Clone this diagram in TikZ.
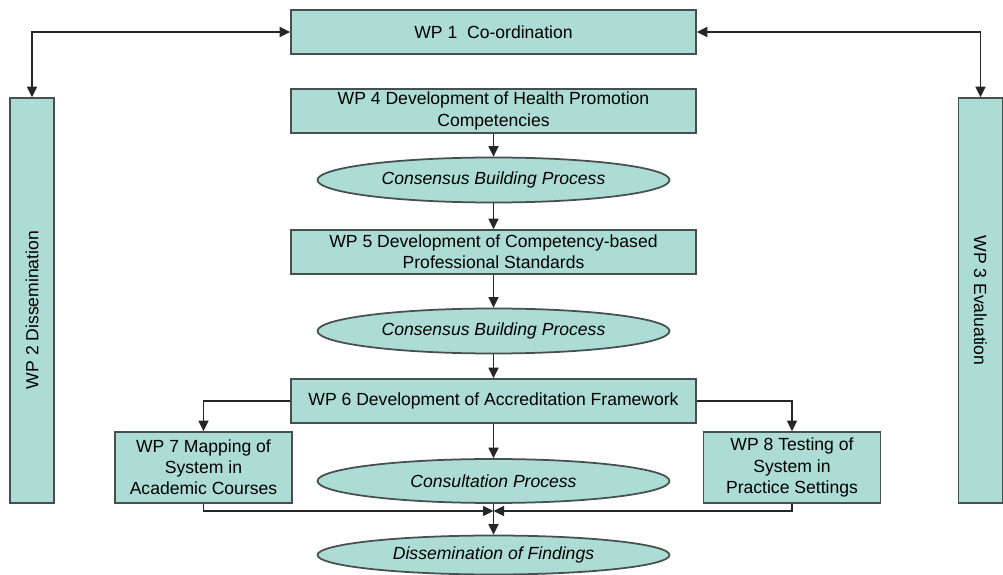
\documentclass[tikz,border=0pt]{standalone}
\usepackage{fontspec}
\setmainfont{Liberation Sans}
\usepackage{xcolor}
\usepackage{tikz}
\usetikzlibrary{
  arrows.meta,
  positioning,
  calc,
  shapes.geometric
}
\definecolor{wpfill}{RGB}{172,220,212}
\definecolor{wpline}{RGB}{70,80,80}

\begin{document}
\begin{tikzpicture}[
      >={Triangle[length=2.1mm,width=2mm]},
      wp/.style={draw=wpline, fill=wpfill, line width=1pt,
                 minimum width=8.1cm, minimum height=0.88cm,
                 align=center, font=\fontsize{10}{12}\selectfont, inner sep=2pt},
      sub/.style={wp, minimum width=3.54cm, minimum height=1.42cm},
      side/.style={draw=wpline, fill=wpfill, line width=1pt,
                   minimum width=0.88cm, minimum height=8.1cm},
      proc/.style={ellipse, draw=wpline, fill=wpfill, line width=1pt,
                   minimum width=7.04cm, minimum height=0.9cm, inner sep=0pt,
                   font=\fontsize{10}{12}\selectfont\itshape},
      seta/.style={->, line width=0.9pt, black!85}
  ]
      \useasboundingbox (0,0) rectangle (20.06,-11.5);

      % Coordenação e pacotes laterais
      \node[wp] (wp1) at (9.87,-0.64) {WP 1\ \ Co-ordination};
      \node[side] (wp2) at (0.64,-6.01) {};
      \node[rotate=90, font=\fontsize{10}{12}\selectfont] at (0.64,-6.2) {WP 2 Dissemination};
      \node[side] (wp3) at (19.61,-6.01) {};
      \node[rotate=-90, font=\fontsize{10}{12}\selectfont] at (19.61,-6.01) {WP 3 Evaluation};

      \draw[seta, <->] (wp2.north) |- (wp1.west);
      \draw[seta, <->] (wp3.north) |- (wp1.east);

      % Cadeia central
      \node[wp] (wp4) at (9.87,-2.22) {WP 4 Development of Health Promotion\\Competencies};
      \node[proc] (cb1) at (9.87,-3.6) {Consensus Building Process};
      \node[wp] (wp5) at (9.87,-5.04) {WP 5 Development of Competency-based\\Professional Standards};
      \node[proc] (cb2) at (9.87,-6.62) {Consensus Building Process};
      \node[wp] (wp6) at (9.87,-8.02) {WP 6 Development of Accreditation Framework};
      \node[proc, minimum height=0.88cm] (cons) at (9.87,-9.62) {Consultation Process};
      \node[proc, minimum height=0.78cm] (diss) at (9.87,-11.1) {Dissemination of Findings};

      \draw[seta] (wp4) -- (cb1);
      \draw[seta] (cb1) -- (wp5);
      \draw[seta] (wp5) -- (cb2);
      \draw[seta] (cb2) -- (wp6);
      \draw[seta] (wp6) -- (cons);
      \draw[seta] (cons) -- (diss);

      % Ramos WP 7 e WP 8
      \node[sub] (wp7) at (4.07,-9.35) {WP 7 Mapping of\\System in\\Academic Courses};
      \node[sub] (wp8) at (15.84,-9.35) {WP 8 Testing of\\System in\\Practice Settings};
      \coordinate (junta) at (9.87,-10.22);

      \draw[seta] (wp6.west) -| (wp7.north);
      \draw[seta] (wp6.east) -| (wp8.north);
      \draw[seta] (wp7.south) |- (junta);
      \draw[seta] (wp8.south) |- (junta);
\end{tikzpicture}
\end{document}
